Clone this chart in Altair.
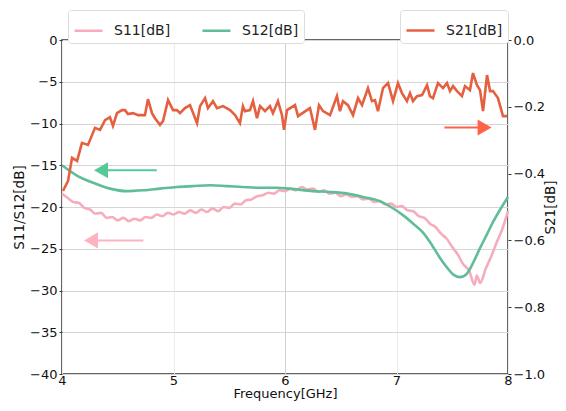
import altair as alt
import pandas as pd

# ---------------- data ----------------
s21_freq = [4.009, 4.054, 4.090, 4.135, 4.179, 4.233, 4.296, 4.341, 4.386, 4.430, 4.457, 4.493,
            4.538, 4.565, 4.592, 4.637, 4.682, 4.744, 4.771, 4.807, 4.834, 4.879, 4.906, 4.951,
            4.996, 5.031, 5.058, 5.103, 5.148, 5.211, 5.238, 5.283, 5.309, 5.354, 5.390, 5.444,
            5.507, 5.552, 5.596, 5.623, 5.641, 5.686, 5.713, 5.749, 5.776, 5.821, 5.865, 5.892,
            5.937, 5.973, 5.991, 6.018, 6.090, 6.117, 6.197, 6.224, 6.269, 6.305, 6.341, 6.404,
            6.466, 6.493, 6.520, 6.565, 6.610, 6.655, 6.691, 6.744, 6.780, 6.807, 6.834, 6.879,
            6.924, 6.969, 7.013, 7.049, 7.094, 7.121, 7.148, 7.184, 7.229, 7.274, 7.300, 7.327,
            7.372, 7.417, 7.453, 7.480, 7.507, 7.543, 7.587, 7.614, 7.659, 7.686, 7.722, 7.749,
            7.776, 7.812, 7.839, 7.865, 7.910, 7.955, 7.991]
s21_db = [-0.452, -0.422, -0.353, -0.362, -0.308, -0.314, -0.263, -0.269, -0.240, -0.231, -0.257, -0.219,
          -0.210, -0.210, -0.222, -0.219, -0.225, -0.225, -0.177, -0.219, -0.234, -0.254, -0.243, -0.180,
          -0.210, -0.210, -0.219, -0.204, -0.195, -0.249, -0.198, -0.174, -0.204, -0.183, -0.204, -0.198,
          -0.210, -0.225, -0.249, -0.198, -0.213, -0.210, -0.183, -0.234, -0.198, -0.213, -0.198, -0.219,
          -0.183, -0.225, -0.269, -0.210, -0.195, -0.228, -0.210, -0.204, -0.269, -0.195, -0.213, -0.225,
          -0.168, -0.213, -0.183, -0.195, -0.225, -0.174, -0.195, -0.144, -0.183, -0.180, -0.213, -0.144,
          -0.129, -0.183, -0.129, -0.159, -0.183, -0.159, -0.183, -0.168, -0.165, -0.135, -0.168, -0.174,
          -0.129, -0.144, -0.129, -0.153, -0.138, -0.153, -0.168, -0.138, -0.150, -0.099, -0.135, -0.150,
          -0.213, -0.105, -0.153, -0.153, -0.174, -0.228, -0.228]

s12_freq = [4.00, 4.13, 4.28, 4.43, 4.58, 4.73, 4.88, 5.03, 5.17, 5.33, 5.48, 5.62, 5.78, 5.93,
            6.04, 6.25, 6.40, 6.56, 6.70, 6.85, 6.95, 7.06, 7.15, 7.24, 7.32, 7.39, 7.45, 7.51,
            7.57, 7.63, 7.69, 7.75, 7.81, 7.87, 7.93, 8.00]
s12_db = [-15.0, -16.2, -17.1, -17.8, -18.1, -18.0, -17.8, -17.6, -17.5, -17.4, -17.5, -17.6, -17.7, -17.7,
          -17.8, -18.1, -18.2, -18.4, -18.8, -19.3, -20.0, -21.0, -22.0, -23.1, -24.6, -26.1, -27.2, -28.1,
          -28.4, -28.0, -26.6, -24.9, -23.3, -21.7, -20.3, -18.8]

s11_freq = [4.00, 4.05, 4.10, 4.15, 4.20, 4.25, 4.30, 4.35, 4.40, 4.45, 4.50, 4.55, 4.60, 4.65, 4.70,
            4.75, 4.80, 4.85, 4.90, 4.95, 5.00, 5.05, 5.10, 5.15, 5.20, 5.25, 5.30, 5.35, 5.40, 5.45,
            5.50, 5.55, 5.60, 5.65, 5.70, 5.75, 5.80, 5.85, 5.90, 5.95, 6.00, 6.05, 6.10, 6.15, 6.20,
            6.25, 6.30, 6.35, 6.40, 6.45, 6.50, 6.55, 6.60, 6.65, 6.70, 6.75, 6.80, 6.85, 6.90, 6.95,
            7.00, 7.05, 7.10, 7.15, 7.20, 7.25, 7.30, 7.35, 7.40, 7.45, 7.50, 7.55, 7.60, 7.65, 7.70,
            7.72, 7.75, 7.80, 7.85, 7.90, 7.95, 8.00]
s11_db = [-18.4, -18.9, -19.4, -19.5, -20.1, -20.3, -20.8, -20.7, -21.3, -21.2, -21.6, -21.3, -21.7, -21.4, -21.6,
          -21.2, -21.3, -20.9, -21.1, -20.7, -20.9, -20.6, -20.8, -20.4, -20.7, -20.3, -20.6, -20.2, -20.5, -20.0,
          -20.1, -19.6, -19.7, -19.2, -19.1, -18.7, -18.6, -18.3, -18.4, -18.0, -18.1, -17.8, -18.0, -17.6, -17.9,
          -17.8, -18.2, -18.0, -18.4, -18.3, -18.7, -18.5, -18.8, -18.7, -19.1, -19.0, -19.4, -19.3, -19.7, -19.6,
          -20.0, -19.9, -20.4, -20.5, -21.1, -21.3, -22.0, -22.4, -23.2, -23.8, -24.8, -25.7, -26.9, -27.6, -29.3,
          -28.2, -29.1, -27.4, -25.9, -24.2, -22.6, -20.5]

series_names = ["S11[dB]", "S12[dB]", "S21[dB]"]
series_colors = ["#f5adbd", "#5fbd97", "#e4603f"]

# annotation arrows (data coordinates): tail x, head x, y
arrow_s12 = {"x_tail": 4.85, "x_head": 4.35, "y": -15.6}
arrow_s11 = {"x_tail": 4.73, "x_head": 4.26, "y": -24.0}
arrow_s21 = {"x_tail": 7.43, "x_head": 7.79, "y": -0.262}

FONT = "DejaVu Sans"

# ---------------- frames ----------------
left_df = pd.concat([
    pd.DataFrame({"f": s11_freq, "v": s11_db, "s": series_names[0]}),
    pd.DataFrame({"f": s12_freq, "v": s12_db, "s": series_names[1]}),
])
right_df = pd.DataFrame({"f": s21_freq, "v": s21_db, "s": series_names[2]})

xscale = alt.Scale(domain=[4, 8], nice=False)
xaxis = alt.Axis(values=[4, 5, 6, 7, 8], format="d", title="Frequency[GHz]", labelFlush=False, ticks=False,
                 domain=False, grid=True,
                 gridColor=alt.ExprRef("datum.value == 6 ? '#cfcfcf' : '#ececec'"),
                 labelPadding=0, titlePadding=0, titleFontSize=13)
yl_scale = alt.Scale(domain=[-40, 0], nice=False)
yl_axis = alt.Axis(values=list(range(-40, 1, 5)), title="S11/S12[dB]", grid=True, gridColor="#d6d6d6",
                   domain=False, tickSize=3, labelFlush=False, labelPadding=2, titlePadding=3)
yr_scale = alt.Scale(domain=[-1, 0], nice=False)
yr_axis = alt.Axis(values=[-1.0, -0.8, -0.6, -0.4, -0.2, 0.0], format=".1f", title="S21[dB]",
                   orient="right", grid=False, domain=False, tickSize=3, labelFlush=False,
                   labelPadding=2, titleAngle=270, titlePadding=13)

legend_common = dict(orient="none", direction="horizontal", title=None, symbolType="stroke",
                     symbolSize=784, symbolStrokeWidth=2.5, labelOffset=10, columnPadding=26,
                     strokeColor="#dcdcdc", fillColor="white", padding=5, cornerRadius=3,
                     labelFont=FONT, labelFontSize=14, labelColor="#222", legendY=-30)

left_lines = alt.Chart(left_df).mark_line(strokeWidth=2.6, interpolate="monotone").encode(
    x=alt.X("f:Q", scale=xscale, axis=xaxis),
    y=alt.Y("v:Q", scale=yl_scale, axis=yl_axis),
    color=alt.Color("s:N", scale=alt.Scale(domain=series_names[:2], range=series_colors[:2]),
                    legend=alt.Legend(legendX=6, **legend_common)),
    order=alt.Order("f:Q"),
)


def arrow(a, color, shape, size):
    df = pd.DataFrame([a])
    base = alt.Chart(df)
    line = base.mark_rule(color=color, strokeWidth=2).encode(
        x=alt.X("x_tail:Q", scale=xscale), x2="x_head:Q", y="y:Q")
    head = base.mark_point(shape=shape, filled=True, color=color, opacity=1, size=size).encode(
        x=alt.X("x_head:Q", scale=xscale), y="y:Q")
    return line, head


a12 = arrow(arrow_s12, "#55c99a", "triangle-left", 260)
a11 = arrow(arrow_s11, "#ffb3c0", "triangle-left", 260)
a21 = arrow(arrow_s21, "#ff6347", "triangle-right", 260)

left_layer = alt.layer(left_lines, *a12, *a11)

right_line = alt.Chart(right_df).mark_line(strokeWidth=2.6).encode(
    x=alt.X("f:Q", scale=xscale, axis=xaxis),
    y=alt.Y("v:Q", scale=yr_scale, axis=yr_axis),
    color=alt.Color("s:N", scale=alt.Scale(domain=series_names[2:], range=series_colors[2:]),
                    legend=alt.Legend(legendX=338, **legend_common)),
    order=alt.Order("f:Q"),
)
right_layer = alt.layer(right_line, *a21)

chart = alt.layer(left_layer, right_layer).resolve_scale(
    y="independent", color="independent"
).properties(
    width=446, height=334,
    autosize=alt.AutoSizeParams(type="none"),
    padding={"left": 54, "top": 32, "right": 50, "bottom": 29},
).configure_view(
    stroke="#333333", strokeWidth=1.5
).configure_axis(
    labelFont=FONT, titleFont=FONT, labelFontSize=13, titleFontSize=13.5,
    labelColor="#111", titleColor="#111", titleFontWeight="normal", tickColor="#333"
)

chart.save("out.html", embed_options={"renderer": "svg", "actions": False})
